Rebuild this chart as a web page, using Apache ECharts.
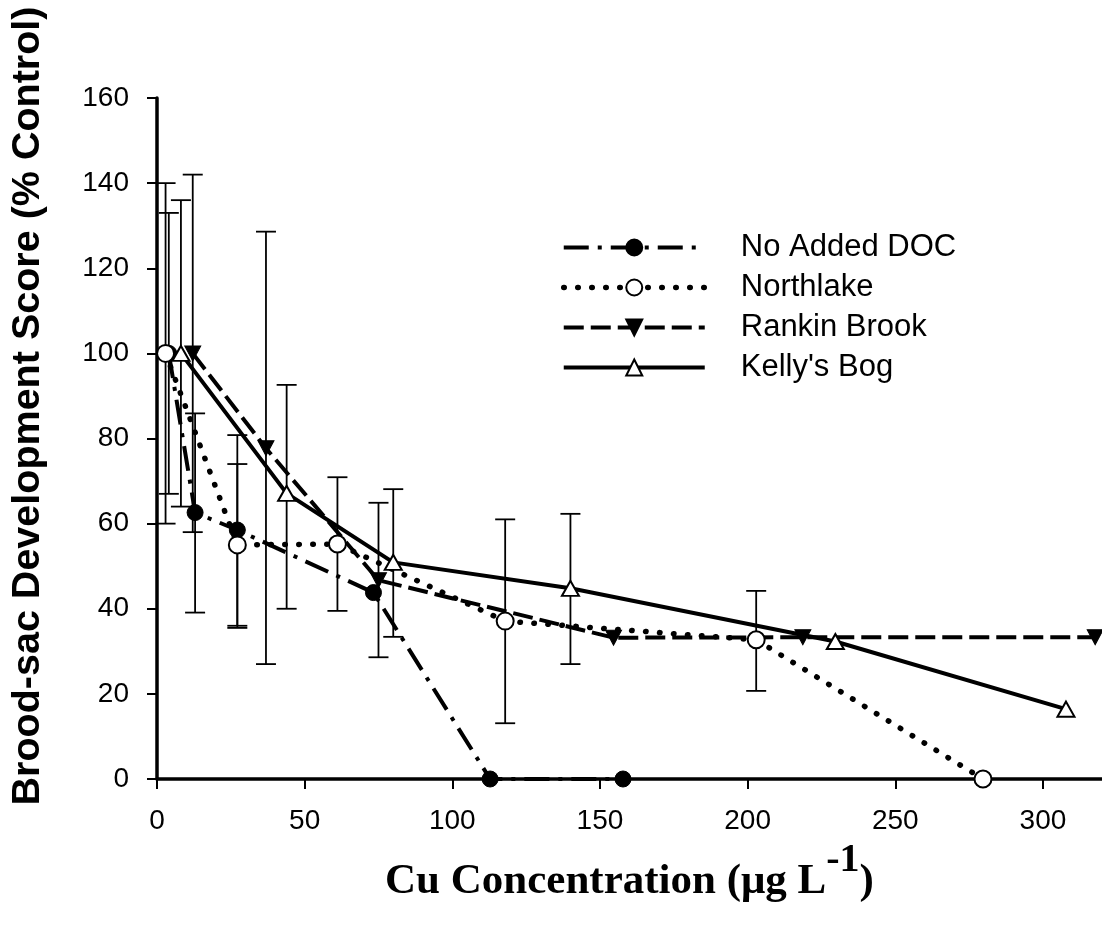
<!DOCTYPE html>
<html><head><meta charset="utf-8">
<script src="https://cdn.jsdelivr.net/npm/echarts@6/dist/echarts.min.js"></script>
<style>html,body{margin:0;padding:0;background:#fff}#c{width:1102px;height:930px}</style>
</head><body><div id="c"></div>
<script>
// ---- data ----
const seriesNames = ['No Added DOC', 'Northlake', 'Rankin Brook', "Kelly's Bog"];

const noDocX    = [4, 12.9, 27.2, 73.3, 112.8, 157.8];
const noDocY    = [100, 62.6, 58.5, 43.8, 0, 0];
const noDocLow  = [67, 39.1, 35.5, null, null, null];
const noDocHigh = [133, 85.9, 80.8, null, null, null];

const northX    = [2.9, 27.2, 61.1, 117.9, 202.9, 279.7];
const northY    = [100, 55.0, 55.2, 37.1, 32.7, 0];
const northLow  = [60, 36, 39.5, 13.1, 20.7, null];
const northHigh = [140, 74, 70.9, 61, 44.2, null];

const rankinX    = [12.1, 36.9, 75, 154.6, 218.7, 317.7];
const rankinY    = [100, 77.7, 46.7, 33.2, 33.3, 33.3];
const rankinLow  = [58, 27, 28.6, null, null, null];
const rankinHigh = [142, 128.6, 64.9, null, null, null];

const kellyX    = [8.1, 43.9, 80, 140, 229.7, 307.8];
const kellyY    = [100, 67.1, 50.9, 44.8, 32.3, 16.4];
const kellyLow  = [64, 40, 33.4, 27, null, null];
const kellyHigh = [136, 92.6, 68.1, 62.3, null, null];

const xTicks = {min: 0, max: 320, interval: 50};
const yTicks = {min: 0, max: 160, interval: 20};

// ---- build ----
function pts(xs, ys) { return xs.map((x, i) => [x, ys[i]]); }
function errs(xs, lo, hi) {
  const out = [];
  xs.forEach((x, i) => { if (lo[i] != null && hi[i] != null) out.push([x, lo[i], hi[i]]); });
  return out;
}
const allErr = [].concat(
  errs(noDocX, noDocLow, noDocHigh),
  errs(northX, northLow, northHigh),
  errs(rankinX, rankinLow, rankinHigh),
  errs(kellyX, kellyLow, kellyHigh)
);

function errRender(params, api) {
  const x = api.value(0), lo = api.value(1), hi = api.value(2);
  const a = api.coord([x, lo]), b = api.coord([x, hi]);
  const hw = 10;
  const st = {stroke: '#000', lineWidth: 1.8};
  return {type: 'group', children: [
    {type: 'line', shape: {x1: a[0], y1: a[1], x2: b[0], y2: b[1]}, style: st},
    {type: 'line', shape: {x1: b[0] - hw, y1: b[1], x2: b[0] + hw, y2: b[1]}, style: st},
    {type: 'line', shape: {x1: a[0] - hw, y1: a[1], x2: a[0] + hw, y2: a[1]}, style: st}
  ]};
}

const SANS = 'Liberation Sans, Arial, sans-serif';
const SERIF = 'Liberation Serif, Times New Roman, serif';

const styles = [
  {fill: '#000', bw: 1, lw: 4, type: [25, 9, 4, 9], cap: 'butt'},
  {fill: '#fff', bw: 2, lw: 5.5, type: [0.5, 13.5], cap: 'round'},
  {fill: '#000', bw: 1, lw: 4, type: [20, 7], cap: 'butt'},
  {fill: '#fff', bw: 2, lw: 4, type: 'solid', cap: 'butt'}
];

const chart = echarts.init(document.getElementById('c'), null, {renderer: 'canvas'});
chart.setOption({
  animation: false,
  backgroundColor: '#fff',
  grid: {left: 157, right: 0, top: 98, bottom: 151, containLabel: false},
  xAxis: {
    type: 'value', min: xTicks.min, max: xTicks.max, interval: xTicks.interval,
    splitLine: {show: false},
    axisLine: {show: true, onZero: false, lineStyle: {color: '#000', width: 3.5}},
    axisTick: {show: true, length: 10, lineStyle: {color: '#000', width: 2}},
    axisLabel: {color: '#000', fontSize: 28, fontFamily: SANS, margin: 28, showMaxLabel: false},
    name: '{a|Cu Concentration (μg L}{s|-1}{a|)}',
    nameLocation: 'middle', nameGap: 62,
    nameTextStyle: {
      rich: {
        a: {fontFamily: SERIF, fontWeight: 'bold', fontSize: 43, color: '#000', lineHeight: 62, verticalAlign: 'bottom'},
        s: {fontFamily: SERIF, fontWeight: 'bold', fontSize: 40, color: '#000', lineHeight: 40, verticalAlign: 'top'}
      }
    }
  },
  yAxis: {
    type: 'value', min: yTicks.min, max: yTicks.max, interval: yTicks.interval,
    splitLine: {show: false},
    axisLine: {show: true, lineStyle: {color: '#000', width: 3.5}},
    axisTick: {show: true, length: 10, lineStyle: {color: '#000', width: 2}},
    axisLabel: {color: '#000', fontSize: 28, fontFamily: SANS, margin: 28}
  },
  graphic: [{
    type: 'text', x: 28, y: 406, rotation: Math.PI / 2,
    style: {
      text: 'Brood-sac Development Score (% Control)',
      font: 'bold 39.5px ' + SANS, fill: '#000',
      textAlign: 'center', textVerticalAlign: 'middle'
    }
  }],
  legend: {
    data: seriesNames.map((n, i) => ({
      name: n,
      lineStyle: {width: styles[i].lw, type: styles[i].type, cap: styles[i].cap, color: '#000'}
    })),
    orient: 'vertical', left: 561, top: 232, padding: 0,
    itemWidth: 141, itemHeight: 20, itemGap: 9, selectedMode: false,
    textStyle: {fontSize: 31, fontFamily: SANS, color: '#000', padding: [0, 0, 0, 31]}
  },
  series: [
    {
      type: 'custom', renderItem: errRender, data: allErr, z: 1,
      encode: {x: 0, y: [1, 2]}, silent: true
    },
    {
      name: seriesNames[0], type: 'line', data: pts(noDocX, noDocY), z: 3,
      symbol: 'circle', symbolSize: 16,
      itemStyle: {color: styles[0].fill, borderColor: '#000', borderWidth: styles[0].bw},
      lineStyle: {color: '#000', width: styles[0].lw, type: styles[0].type}
    },
    {
      name: seriesNames[1], type: 'line', data: pts(northX, northY), z: 4,
      symbol: 'circle', symbolSize: 17,
      itemStyle: {color: styles[1].fill, borderColor: '#000', borderWidth: styles[1].bw},
      lineStyle: {color: '#000', width: styles[1].lw, type: styles[1].type, cap: 'round'}
    },
    {
      name: seriesNames[2], type: 'line', data: pts(rankinX, rankinY), z: 3,
      symbol: 'triangle', symbolSize: [16, 15], symbolRotate: 180,
      itemStyle: {color: styles[2].fill, borderColor: '#000', borderWidth: styles[2].bw},
      lineStyle: {color: '#000', width: styles[2].lw, type: styles[2].type}
    },
    {
      name: seriesNames[3], type: 'line', data: pts(kellyX, kellyY), z: 4,
      symbol: 'triangle', symbolSize: [17, 15],
      itemStyle: {color: styles[3].fill, borderColor: '#000', borderWidth: styles[3].bw},
      lineStyle: {color: '#000', width: styles[3].lw}
    }
  ]
});
</script>
</body></html>
